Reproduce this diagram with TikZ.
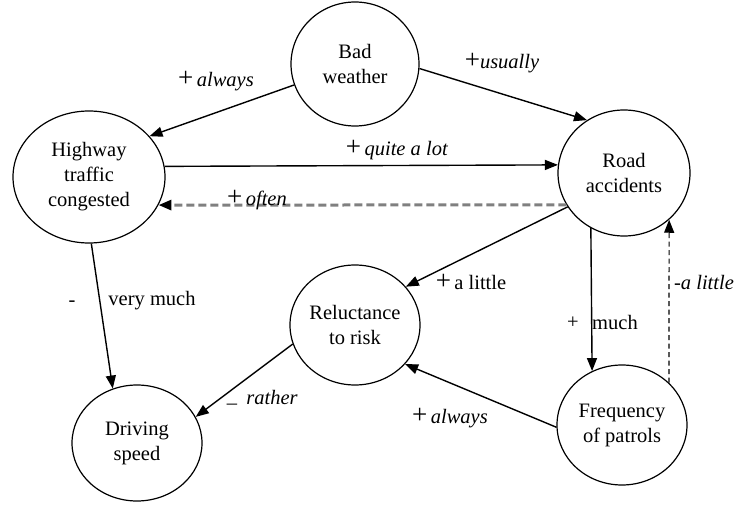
\documentclass[tikz,border=0pt]{standalone}
\usepackage{fontspec}
\setmainfont{Liberation Serif}
\usetikzlibrary{shapes.geometric,arrows.meta}
\newcommand{\plussign}{{\fontsize{27}{27}\selectfont +}}
\begin{document}
\begin{tikzpicture}[x=1pt,y=-1pt,
  factor/.style={ellipse,draw,line width=1.2pt,inner sep=0pt,align=center,
    font=\fontsize{20.5}{25}\selectfont},
  tip/.style={-{Triangle[length=13pt,width=10pt,color=black]}},
  link/.style={tip,line width=1.4pt},
  feedback/.style={tip,draw=gray,line width=3pt,dash pattern=on 8pt off 4pt},
  damping/.style={tip,draw=black,line width=1.2pt,dash pattern=on 5pt off 3.5pt},
  lbl/.style={inner sep=0pt,font=\fontsize{20.5}{25}\selectfont}]
\useasboundingbox[fill=white] (0,0) rectangle (734,505);

% factors
\node[factor,minimum width=128pt,minimum height=124pt] (bw)  at (355,64)  {Bad\\weather};
\node[factor,minimum width=152pt,minimum height=132pt] (hw)  at (89,177)  {Highway\\traffic\\congested};
\node[factor,minimum width=132pt,minimum height=126pt] (rd)  at (624,173) {Road\\accidents};
\node[factor,minimum width=130pt,minimum height=120pt] (rel) at (355,325) {Reluctance\\to risk};
\node[factor,minimum width=130pt,minimum height=116pt] (drv) at (137,443) {Driving\\speed};
\node[factor,minimum width=130pt,minimum height=120pt] (frq) at (622,425) {Frequency\\of patrols};

% influences
\draw[link] (bw.199) -- (hw.34);
\draw[link] (bw.-4) -- (rd.125);
\draw[link] (hw.8.3) -- (rd.173.9);
\draw[feedback] (rd.209.4) -- (hw.-22.1);
\draw[link] (rd.211.5) -- (rel.37);
\draw[link] (rd.239.9) -- (frq.119.4);
\draw[damping] (frq.42.7) -- (rd.-46.9);
\draw[link] (hw.-88) -- (drv.114);
\draw[link] (rel.197) -- (drv.24);
\draw[link] (frq.182) -- (rel.-38);

% strengths
\node[lbl] (l1)  at (216,81)  {\plussign\,\textit{always}};
\node[lbl] (l2)  at (502,63)  {\plussign\textit{usually}};
\node[lbl] (l3)  at (397,150) {\plussign\,\textit{quite a lot}};
\node[lbl] (l4)  at (257,200) {\plussign\,\textit{often}};
\node[lbl] (l5)  at (471,282) {\plussign\,a little};
\node[lbl] (l6)  at (573,323) {+};
\node[lbl] (l7)  at (615,322) {much};
\node[lbl] (l8)  at (704,282) {\textit{-a little}};
\node[lbl] (l9)  at (72,304)  {-};
\node[lbl] (l10) at (152,301) {very much};
\node[lbl] (l11) at (232,404) {\_};
\node[lbl] (l12) at (272,397) {\textit{rather}};
\node[lbl] (l13) at (450,418) {\plussign\,\textit{always}};
\end{tikzpicture}
\end{document}
